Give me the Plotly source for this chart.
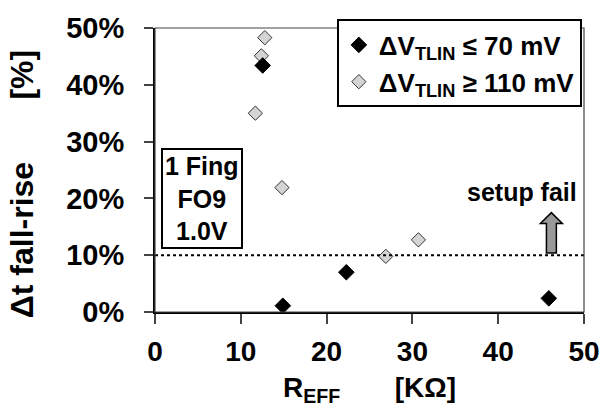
import plotly.graph_objects as go

# Data
low_x = [12.55, 14.9, 22.3, 45.9]
low_y = [43.4, 1.1, 7.0, 2.4]
high_x = [12.8, 12.4, 11.7, 14.8, 26.9, 30.7]
high_y = [48.3, 45.1, 35.0, 21.9, 9.8, 12.7]
x_ticks = [0, 10, 20, 30, 40, 50]
y_ticks = [0, 10, 20, 30, 40, 50]
y_ticktext = ["<b>0%</b>", "<b>10%</b>", "<b>20%</b>", "<b>30%</b>", "<b>40%</b>", "<b>50%</b>"]
x_ticktext = ["<b>0</b>", "<b>10</b>", "<b>20</b>", "<b>30</b>", "<b>40</b>", "<b>50</b>"]
threshold = 10

FONT = "Liberation Sans, Arial, sans-serif"
NB = "\u00a0"

fig = go.Figure()
fig.add_trace(go.Scatter(
    x=high_x, y=high_y, mode="markers",
    name="<b>ΔV<sub>TLIN</sub> ≥ 110 mV</b>",
    marker=dict(symbol="diamond", size=11, color="#d4d4d4",
                line=dict(color="#333333", width=1)),
    legendrank=2,
))
fig.add_trace(go.Scatter(
    x=low_x, y=low_y, mode="markers",
    name="<b>ΔV<sub>TLIN</sub> ≤ 70 mV</b>",
    marker=dict(symbol="diamond", size=12, color="black",
                line=dict(color="black", width=1)),
    legendrank=1,
))

# threshold dotted line
fig.add_shape(type="line", xref="paper", yref="y", x0=0, x1=1,
              y0=threshold, y1=threshold,
              line=dict(color="black", width=2, dash="dot"))
# plot frame (top/right)
fig.add_shape(type="rect", xref="paper", yref="paper", x0=0, x1=1, y0=0, y1=1,
              line=dict(color="#444444", width=1.2))

# block arrow for "setup fail"
ax = 46.2
path = (f"M {ax-0.58},10.4 L {ax-0.58},15.6 L {ax-1.28},15.6 L {ax},17.5 "
        f"L {ax+1.28},15.6 L {ax+0.58},15.6 L {ax+0.58},10.4 Z")
fig.add_shape(type="path", path=path, xref="x", yref="y",
              fillcolor="#999999", line=dict(color="black", width=1.5))

fig.add_annotation(x=49.4, y=21.2, xref="x", yref="y", xanchor="right",
                   yanchor="middle", showarrow=False,
                   text="<b>setup fail</b>",
                   font=dict(family=FONT, size=25, color="black"))

fig.add_annotation(x=5.5, y=19.9, xref="x", yref="y", showarrow=False,
                   text="<b>1 Fing<br>FO9<br>1.0V</b>",
                   font=dict(family=FONT, size=25, color="black"),
                   bordercolor="black", borderwidth=2, borderpad=2,
                   bgcolor="white", align="center")

# axis titles as annotations
fig.add_annotation(x=0.5, y=-0.272, xref="paper", yref="paper",
                   xanchor="center", yanchor="middle", showarrow=False,
                   text=f"<b>R<sub>EFF</sub>{NB*7}[KΩ]</b>",
                   font=dict(family=FONT, size=28, color="black"))
fig.add_annotation(x=-0.31, y=0.45, xref="paper", yref="paper",
                   xanchor="center", yanchor="middle", showarrow=False,
                   textangle=-90,
                   text=f"<b>Δt fall-rise{NB*7}[%]</b>",
                   font=dict(family=FONT, size=32, color="black"))

fig.update_layout(
    width=612, height=410,
    margin=dict(l=155, r=28, t=17, b=98),
    paper_bgcolor="white", plot_bgcolor="white",
    font=dict(family=FONT, color="black"),
    showlegend=True,
    legend=dict(x=0.995, y=1.03, xanchor="right", yanchor="top",
                bgcolor="white", bordercolor="black", borderwidth=2,
                font=dict(family=FONT, size=26, color="black"),
                itemwidth=30, tracegroupgap=0),
    xaxis=dict(range=[0, 50], tickvals=x_ticks, ticktext=x_ticktext,
               showgrid=False, zeroline=False,
               showline=True, linecolor="black", linewidth=2,
               ticks="outside", ticklen=10, tickwidth=1.5, tickcolor="#444444",
               tickfont=dict(family=FONT, size=28, color="black"),
               ticklabelstandoff=3),
    yaxis=dict(range=[0, 50], tickvals=y_ticks, ticktext=y_ticktext,
               showgrid=False,
               zeroline=False, showline=True, linecolor="black", linewidth=2,
               ticks="outside", ticklen=9, tickwidth=1.5, tickcolor="#444444",
               tickfont=dict(family=FONT, size=29, color="black"),
               ticklabelstandoff=14),
)

fig.write_html("out.html")
